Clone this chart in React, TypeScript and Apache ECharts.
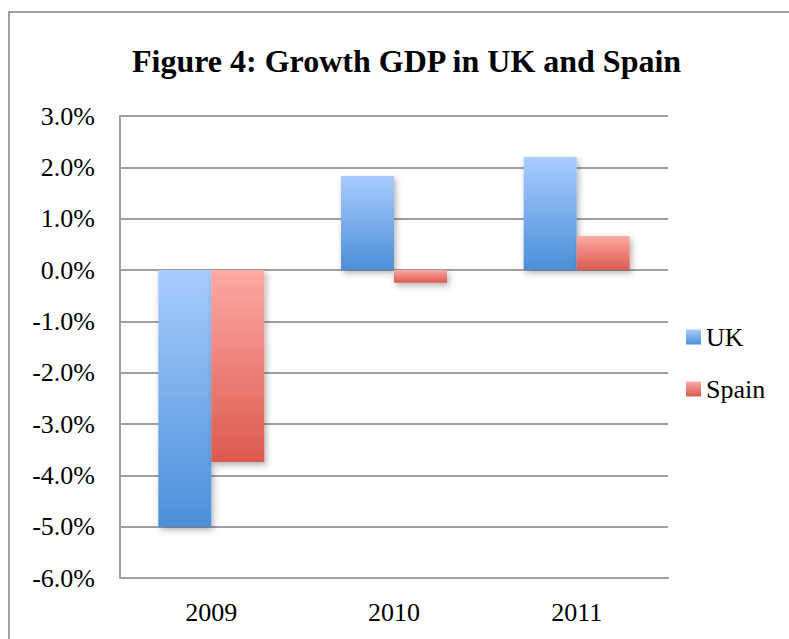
import React, { useEffect, useRef } from "react";
import * as echarts from "echarts";

const categories = ["2009", "2010", "2011"];
const ukValues = [-5.0, 1.83, 2.2];
const spainValues = [-3.74, -0.25, 0.66];
const seriesNames = ["UK", "Spain"];
const titleText = "Figure 4: Growth GDP in UK and Spain";

const FONT = "Liberation Serif";

function grad(top: string, bottom: string) {
  return new echarts.graphic.LinearGradient(0, 0, 0, 1, [
    { offset: 0, color: top },
    { offset: 1, color: bottom },
  ]);
}

export default function App() {
  const ref = useRef<HTMLDivElement>(null);
  useEffect(() => {
    if (!ref.current) return;
    const chart = echarts.init(ref.current, undefined, { renderer: "svg" });
    const shadow = {
      shadowBlur: 6,
      shadowOffsetX: 2,
      shadowOffsetY: 3,
      shadowColor: "rgba(0,0,0,0.3)",
    };
    chart.setOption({
      animation: false,
      backgroundColor: "#ffffff",
      title: {
        text: titleText,
        left: 127,
        top: 40,
        textStyle: {
          fontFamily: FONT,
          fontWeight: "bold",
          fontSize: 32,
          color: "#000",
        },
      },
      graphic: [
        {
          type: "rect",
          z: -10,
          shape: { x: 9, y: 12, width: 820, height: 700 },
          style: { fill: "none", stroke: "#a0a0a0", lineWidth: 2 },
        },
      ],
      legend: {
        orient: "vertical",
        left: 681,
        top: 319,
        itemWidth: 15,
        itemHeight: 15,
        itemGap: 26,
        icon: "rect",
        textStyle: { fontFamily: FONT, fontSize: 26, color: "#000" },
        data: seriesNames,
      },
      grid: { left: 120, right: 121, top: 116, bottom: 61 },
      xAxis: {
        type: "category",
        data: categories,
        position: "bottom",
        axisLine: { onZero: false, lineStyle: { color: "#a0a0a0", width: 2 } },
        axisTick: { show: false },
        axisLabel: {
          fontFamily: FONT,
          fontSize: 26,
          color: "#000",
          margin: 21,
        },
      },
      yAxis: {
        type: "value",
        min: -6,
        max: 3,
        interval: 1,
        axisLine: { show: true, lineStyle: { color: "#a0a0a0", width: 2 } },
        axisTick: { show: false },
        splitLine: { lineStyle: { color: "#a0a0a0", width: 2 } },
        axisLabel: {
          fontFamily: FONT,
          fontSize: 26,
          color: "#000",
          margin: 25,
          formatter: (v: number) => v.toFixed(1) + "%",
        },
      },
      series: [
        {
          name: seriesNames[0],
          type: "bar",
          data: ukValues,
          barWidth: 53,
          barGap: "0%",
          itemStyle: { color: grad("#a9ccfd", "#4a8fd8"), ...shadow },
        },
        {
          name: seriesNames[1],
          type: "bar",
          data: spainValues,
          barWidth: 53,
          barGap: "0%",
          itemStyle: { color: grad("#fea9a4", "#db5a4f"), ...shadow },
        },
      ],
    });
    return () => chart.dispose();
  }, []);
  return (
    <div
      ref={ref}
      style={{ position: "fixed", left: 0, top: 0, width: 789, height: 639 }}
    />
  );
}
